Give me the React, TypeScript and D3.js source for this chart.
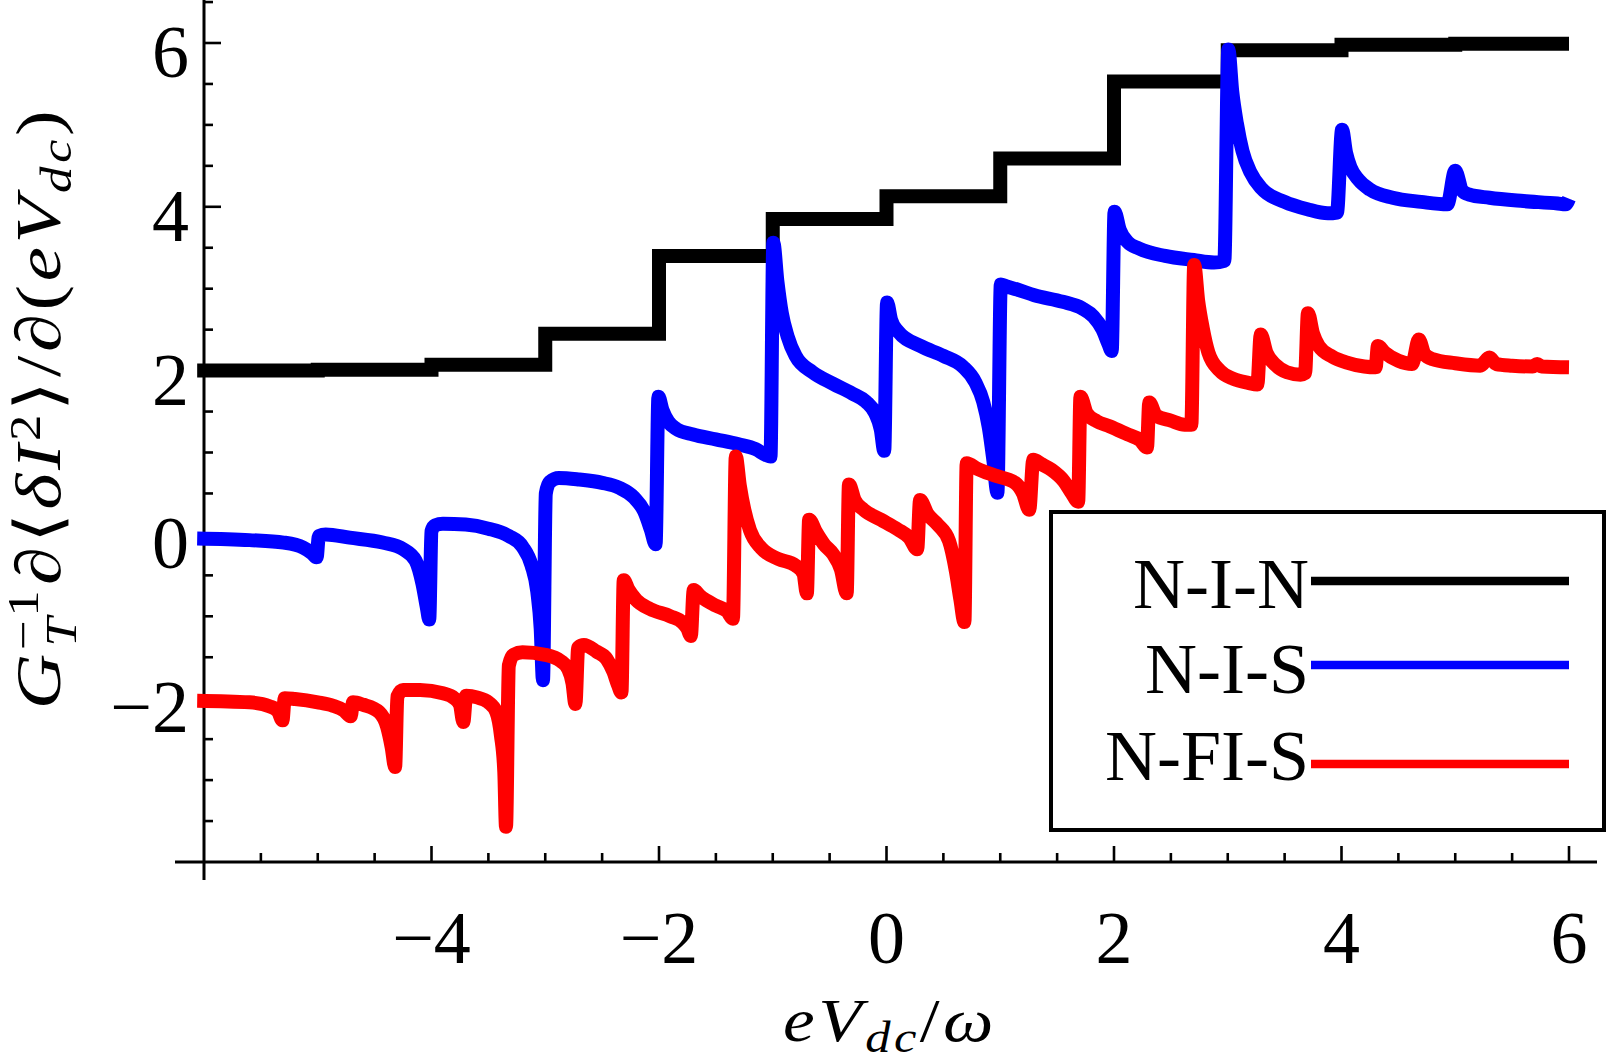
import { curveMonotoneX, curveStepAfter, line, range, scaleLinear } from "d3";

// N-I-N staircase: level held from each edge to the next
const NIN_EDGES = [-6.06, -5, -4, -3, -2, -1, 0, 1, 2, 3, 4, 5, 6];
const NIN_LEVELS = [2.0, 2.01, 2.07, 2.45, 3.4, 3.85, 4.13, 4.59, 5.53, 5.91, 5.98, 5.99, 5.99];

// N-I-S as [eV/w, value]
const NIS_POINTS: [number, number][] = [
  [-6.06, -0.05], [-5.6, -0.07], [-5.3, -0.1], [-5.13, -0.16], [-5.05, -0.23], [-5.01, -0.28],
  [-4.99, -0.02], [-4.93, 0.0], [-4.72, -0.04], [-4.43, -0.1], [-4.25, -0.18], [-4.14, -0.32],
  [-4.08, -0.6], [-4.04, -0.9], [-4.02, -1.04],
  [-4.0, 0.04], [-3.97, 0.11], [-3.9, 0.13], [-3.7, 0.12], [-3.5, 0.07], [-3.32, -0.02],
  [-3.2, -0.15], [-3.12, -0.38], [-3.07, -0.7], [-3.04, -1.15], [-3.02, -1.78],
  [-2.995, 0.5], [-2.96, 0.64], [-2.88, 0.69], [-2.7, 0.67], [-2.5, 0.63], [-2.35, 0.57],
  [-2.22, 0.45], [-2.13, 0.28], [-2.07, 0.05], [-2.03, -0.12],
  [-2.005, 1.68], [-1.97, 1.52], [-1.92, 1.38], [-1.85, 1.29], [-1.7, 1.22], [-1.5, 1.16],
  [-1.3, 1.1], [-1.15, 1.04], [-1.06, 0.97], [-1.02, 0.95],
  [-0.995, 3.56], [-0.96, 3.1], [-0.92, 2.7], [-0.87, 2.42], [-0.8, 2.18], [-0.65, 1.98],
  [-0.47, 1.84], [-0.3, 1.72], [-0.18, 1.62], [-0.1, 1.48], [-0.05, 1.28], [-0.02, 1.02],
  [0.005, 2.83], [0.04, 2.62], [0.1, 2.48], [0.3, 2.3], [0.5, 2.18], [0.67, 2.05],
  [0.78, 1.86], [0.85, 1.62], [0.9, 1.3], [0.94, 0.9], [0.975, 0.51],
  [1.005, 3.05], [1.05, 3.03], [1.15, 2.99], [1.3, 2.92], [1.55, 2.84], [1.72, 2.76],
  [1.82, 2.66], [1.9, 2.5], [1.95, 2.33], [1.98, 2.24],
  [2.005, 3.94], [2.05, 3.72], [2.12, 3.57], [2.22, 3.49], [2.45, 3.4], [2.7, 3.35],
  [2.88, 3.32], [2.97, 3.34],
  [3.005, 5.92], [3.04, 5.4], [3.08, 5.02], [3.13, 4.68], [3.2, 4.42], [3.3, 4.22],
  [3.5, 4.06], [3.7, 3.97], [3.88, 3.92], [3.96, 3.93],
  [4.005, 4.94], [4.04, 4.66], [4.08, 4.48], [4.15, 4.33], [4.25, 4.21], [4.45, 4.11],
  [4.7, 4.06], [4.93, 4.03], [5.0, 4.44], [5.06, 4.2], [5.12, 4.15], [5.3, 4.11],
  [5.6, 4.07], [5.9, 4.04], [5.97, 4.03], [6.0, 4.1],
];

// N-FI-S
const NFIS_POINTS: [number, number][] = [
  [-6.06, -2.03], [-5.6, -2.05], [-5.42, -2.1], [-5.35, -2.16], [-5.31, -2.27],
  [-5.29, -2.0], [-5.2, -2.01], [-5.0, -2.05], [-4.87, -2.09], [-4.77, -2.15], [-4.71, -2.22],
  [-4.69, -2.05], [-4.6, -2.08], [-4.46, -2.17], [-4.39, -2.35], [-4.35, -2.6], [-4.32, -2.84],
  [-4.3, -1.98], [-4.25, -1.9], [-4.1, -1.9], [-3.9, -1.94], [-3.8, -2.0], [-3.75, -2.08], [-3.72, -2.29],
  [-3.695, -1.97], [-3.6, -1.99], [-3.5, -2.05], [-3.43, -2.17], [-3.39, -2.45], [-3.36, -2.9], [-3.345, -3.57],
  [-3.32, -1.6], [-3.28, -1.47], [-3.2, -1.44], [-3.0, -1.47], [-2.86, -1.55], [-2.8, -1.64],
  [-2.76, -1.82], [-2.735, -2.07],
  [-2.71, -1.38], [-2.66, -1.35], [-2.55, -1.43], [-2.46, -1.52], [-2.4, -1.68], [-2.36, -1.84], [-2.33, -1.93],
  [-2.31, -0.56], [-2.27, -0.67], [-2.2, -0.8], [-2.08, -0.91], [-1.9, -1.0], [-1.79, -1.08],
  [-1.75, -1.15], [-1.72, -1.24],
  [-1.695, -0.68], [-1.64, -0.75], [-1.5, -0.87], [-1.4, -0.94], [-1.35, -1.03],
  [-1.325, 0.95], [-1.29, 0.6], [-1.25, 0.3], [-1.2, 0.05], [-1.1, -0.17], [-0.95, -0.3],
  [-0.8, -0.38], [-0.73, -0.48], [-0.7, -0.72],
  [-0.68, 0.18], [-0.62, 0.03], [-0.55, -0.12], [-0.47, -0.24], [-0.4, -0.43], [-0.35, -0.72],
  [-0.33, 0.61], [-0.28, 0.42], [-0.2, 0.3], [-0.05, 0.18], [0.1, 0.06], [0.2, -0.04], [0.27, -0.18],
  [0.295, 0.42], [0.36, 0.25], [0.45, 0.12], [0.55, -0.08], [0.61, -0.45], [0.65, -0.8], [0.685, -1.07],
  [0.705, 0.87], [0.8, 0.8], [0.95, 0.72], [1.13, 0.63], [1.2, 0.5], [1.255, 0.3],
  [1.29, 0.91], [1.36, 0.86], [1.45, 0.79], [1.56, 0.65], [1.63, 0.5], [1.685, 0.4],
  [1.705, 1.68], [1.76, 1.48], [1.85, 1.38], [1.96, 1.32], [2.12, 1.22], [2.23, 1.15], [2.29, 1.06],
  [2.31, 1.61], [2.37, 1.45], [2.5, 1.39], [2.62, 1.34], [2.68, 1.34],
  [2.705, 3.29], [2.74, 2.85], [2.78, 2.52], [2.83, 2.22], [2.93, 2.0], [3.05, 1.9], [3.18, 1.85], [3.26, 1.83],
  [3.29, 2.44], [3.34, 2.22], [3.42, 2.07], [3.52, 1.98], [3.64, 1.95], [3.68, 1.97],
  [3.705, 2.7], [3.75, 2.45], [3.8, 2.3], [3.92, 2.17], [4.04, 2.1], [4.2, 2.05], [4.3, 2.04],
  [4.32, 2.3], [4.38, 2.22], [4.5, 2.12], [4.62, 2.08], [4.68, 2.38], [4.73, 2.2], [4.8, 2.14],
  [5.0, 2.09], [5.22, 2.06], [5.3, 2.16], [5.36, 2.08], [5.5, 2.06], [5.68, 2.05], [5.72, 2.08],
  [5.76, 2.05], [6.0, 2.04],
];

const X_LABELS = [-4, -2, 0, 2, 4, 6];
const Y_LABELS = [-2, 0, 2, 4, 6];
const LEGEND_NAMES = ["N-I-N", "N-I-S", "N-FI-S"];
const LEGEND_COLORS = ["#000000", "#0000ff", "#ff0000"];

const FONT = "'Liberation Serif', 'Times New Roman', Times, serif";

export default function App() {
  const width = 1607;
  const height = 1062;

  const x = scaleLinear().domain([-6, 6]).range([204, 1569]);
  const y = scaleLinear().domain([-4, 6]).range([862, 43]);
  const x0 = x(-6);
  const y0 = y(-4);

  const stairs = line<number>()
    .curve(curveStepAfter)
    .x((d) => x(d))
    .y((_, i) => y(NIN_LEVELS[i]));
  const smooth = line<[number, number]>()
    .curve(curveMonotoneX)
    .x((d) => x(d[0]))
    .y((d) => y(d[1]));

  const xTicks = range(-5.5, 6.01, 0.5);
  const yTicks = range(-3.5, 6.51, 0.5);
  const isMajor = (v: number) => Math.abs(v / 2 - Math.round(v / 2)) < 1e-6;

  const legendBase = [608, 693, 780];
  const legendLine = [581, 665, 764];

  return (
    <svg
      width={width}
      height={height}
      viewBox={`0 0 ${width} ${height}`}
      style={{ position: "absolute", left: 0, top: 0, background: "#fff" }}
      fontFamily={FONT}
    >
      {/* axes */}
      <line x1={x0} x2={x0} y1={0} y2={880} stroke="#000" strokeWidth={3} />
      <line x1={175} x2={1597} y1={y0} y2={y0} stroke="#000" strokeWidth={3} />

      {xTicks.map((t) => (
        <line
          key={`xt-${t}`}
          x1={x(t)}
          x2={x(t)}
          y1={y0}
          y2={y0 - (isMajor(t) ? 16 : 9)}
          stroke="#000"
          strokeWidth={2.6}
        />
      ))}
      {yTicks.map((t) => (
        <line
          key={`yt-${t}`}
          x1={x0}
          x2={x0 + (isMajor(t) ? 17 : 9)}
          y1={y(t)}
          y2={y(t)}
          stroke="#000"
          strokeWidth={2.6}
        />
      ))}

      {X_LABELS.map((t) => (
        <text key={`xl-${t}`} x={x(t)} y={963} textAnchor="middle" fontSize={74}>
          {t < 0 ? `\u2212${Math.abs(t)}` : t}
        </text>
      ))}
      {Y_LABELS.map((t) => (
        <text key={`yl-${t}`} x={189} y={y(t) + 34} textAnchor="end" fontSize={74}>
          {t < 0 ? `\u2212${Math.abs(t)}` : t}
        </text>
      ))}

      {/* curves */}
      <path d={stairs(NIN_EDGES) ?? ""} fill="none" stroke={LEGEND_COLORS[0]} strokeWidth={14} />
      <path d={smooth(NIS_POINTS) ?? ""} fill="none" stroke={LEGEND_COLORS[1]} strokeWidth={14} />
      <path d={smooth(NFIS_POINTS) ?? ""} fill="none" stroke={LEGEND_COLORS[2]} strokeWidth={14} />

      {/* legend */}
      <rect x={1051} y={512} width={553} height={318} fill="#fff" stroke="#000" strokeWidth={4} />
      {LEGEND_NAMES.map((name, i) => (
        <g key={name}>
          <text x={1309} y={legendBase[i]} textAnchor="end" fontSize={72}>
            {name}
          </text>
          <line
            x1={1311}
            x2={1569}
            y1={legendLine[i]}
            y2={legendLine[i]}
            stroke={LEGEND_COLORS[i]}
            strokeWidth={8.5}
          />
        </g>
      ))}

      {/* axis titles, stretched a little to match the wide math font of the original */}
      <text transform="translate(890 1041) scale(1.15 1)" textAnchor="middle" fontSize={62} letterSpacing={3}>
        <tspan fontStyle="italic">eV</tspan>
        <tspan fontStyle="italic" fontSize={44} dy={11}>
          dc
        </tspan>
        <tspan dy={-11}>/</tspan>
        <tspan fontStyle="italic">ω</tspan>
      </text>
      <text
        transform="translate(60 408) rotate(-90) scale(1.2 1)"
        textAnchor="middle"
        fontSize={64}
        letterSpacing={3}
      >
        <tspan fontStyle="italic">G</tspan>
        <tspan fontSize={44} dy={-22}>
          {"\u22121"}
        </tspan>
        <tspan fontSize={44} fontStyle="italic" dx={-50} dy={38}>
          T
        </tspan>
        <tspan dx={24} dy={-16}>
          ∂⟨
        </tspan>
        <tspan fontStyle="italic">δI</tspan>
        <tspan fontSize={44} dy={-20}>
          2
        </tspan>
        <tspan dy={20}>⟩/∂(</tspan>
        <tspan fontStyle="italic">eV</tspan>
        <tspan fontSize={44} fontStyle="italic" dy={11}>
          dc
        </tspan>
        <tspan dy={-11}>)</tspan>
      </text>
    </svg>
  );
}
